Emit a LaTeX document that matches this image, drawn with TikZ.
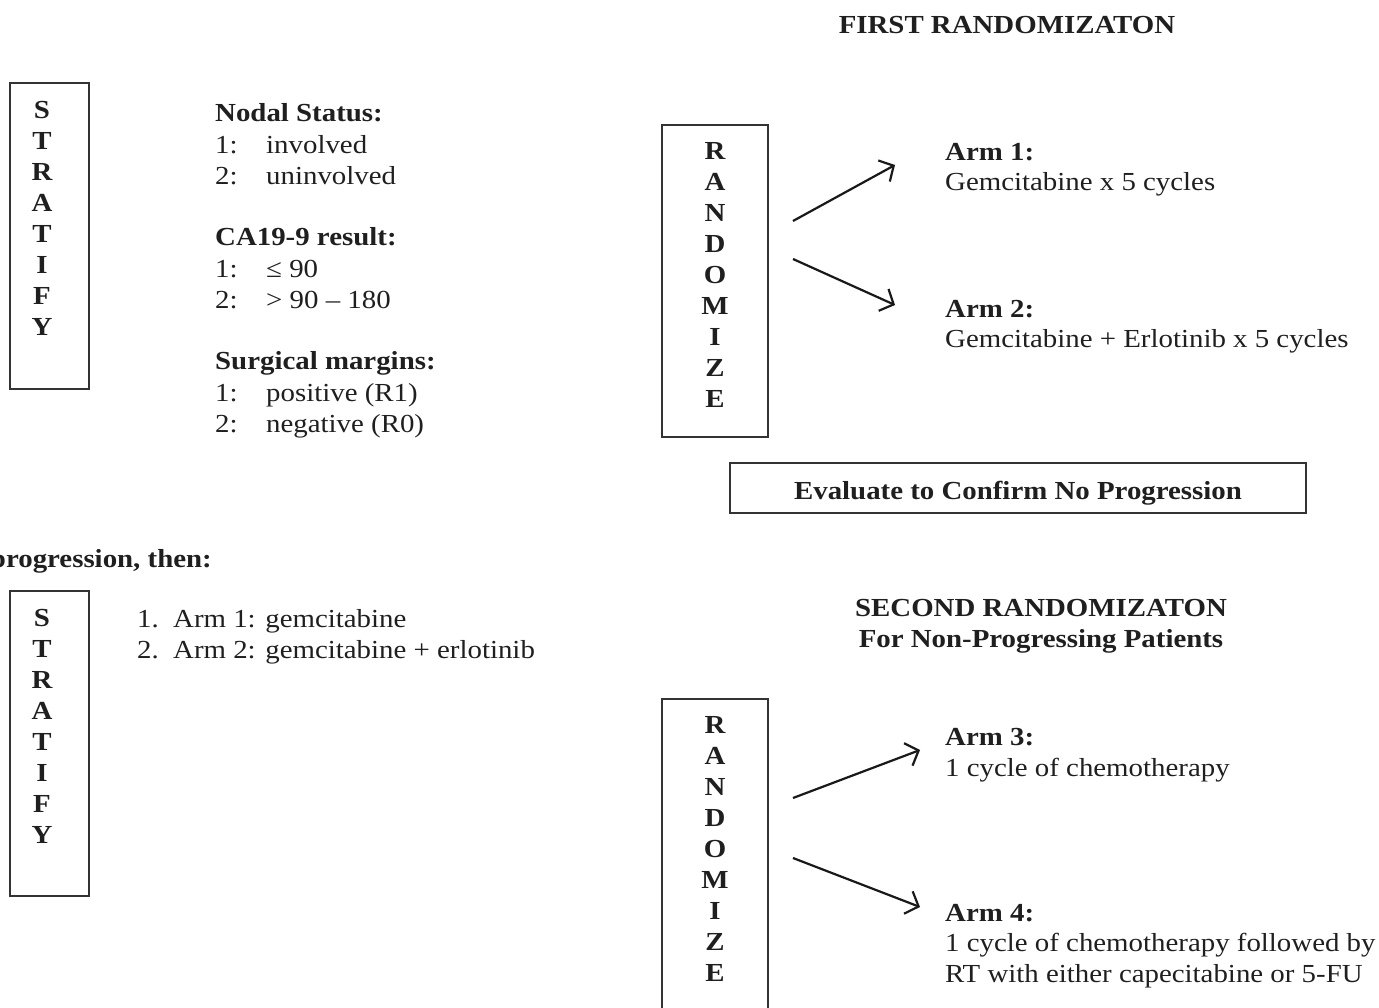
\documentclass[tikz,border=0pt]{standalone}
\usepackage{fontspec}
\setmainfont{Liberation Serif}[FakeStretch=1.11]
\usetikzlibrary{arrows.meta}
\begin{document}
\begin{tikzpicture}[x=1pt,y=-1pt,
  every node/.style={font=\fontsize{26}{31}\selectfont, inner sep=0pt, text=black!88},
  txt/.style={anchor=base west},
  hd/.style={anchor=base west, font=\fontsize{26}{31}\selectfont\bfseries},
  ctitle/.style={anchor=base, font=\fontsize{26}{31}\selectfont\bfseries},
  frame/.style={draw=black!80, line width=2pt},
  letters/.style={align=center, font=\fontsize{26}{31}\selectfont\bfseries},
  arr/.style={draw=black!90, -{Straight Barb[length=11pt,width=24pt,line width=2.2pt]}, line width=2.2pt}
]
\useasboundingbox (0,0) rectangle (1379,1008);

% ---------- first block ----------
\node[ctitle] (first) at (1007,34) {FIRST RANDOMIZATON};

\node[frame, minimum width=79pt, minimum height=306pt] (strat1) at (49.5,236) {};
\node[letters] (strat1l) at (42,218.5) {S\\T\\R\\A\\T\\I\\F\\Y};

\node[hd]  (nodal)  at (215,122) {Nodal Status:};
\node[txt] (nodal1) at (215,154) {\makebox[51pt][l]{1:}involved};
\node[txt] (nodal2) at (215,185) {\makebox[51pt][l]{2:}uninvolved};
\node[hd]  (ca)     at (215,246) {CA19-9 result:};
\node[txt] (ca1)    at (215,278) {\makebox[51pt][l]{1:}≤ 90};
\node[txt] (ca2)    at (215,309) {\makebox[51pt][l]{2:}> 90 – 180};
\node[hd]  (surg)   at (215,370) {Surgical margins:};
\node[txt] (surg1)  at (215,401) {\makebox[51pt][l]{1:}positive (R1)};
\node[txt] (surg2)  at (215,432) {\makebox[51pt][l]{2:}negative (R0)};

\node[frame, minimum width=106pt, minimum height=312pt] (rand1) at (715,281) {};
\node[letters] (rand1l) at (715,275) {R\\A\\N\\D\\O\\M\\I\\Z\\E};

\coordinate (a1s) at (793,221);
\coordinate (a1e) at (895,165);
\coordinate (a2s) at (793,259);
\coordinate (a2e) at (895,305);
\draw[arr] (a1s) -- (a1e);
\draw[arr] (a2s) -- (a2e);

\node[hd]  (arm1)  at (945,161) {Arm 1:};
\node[txt] (arm1t) at (945,191) {Gemcitabine x 5 cycles};
\node[hd]  (arm2)  at (945,318) {Arm 2:};
\node[txt] (arm2t) at (945,348) {Gemcitabine + Erlotinib x 5 cycles};

\node[frame, minimum width=576pt, minimum height=50pt] (eval) at (1018,488) {};
\node[ctitle] (evalt) at (1018,499) {Evaluate to Confirm No Progression};

% ---------- second block ----------
\node[anchor=base east, font=\fontsize{26}{31}\selectfont\bfseries] (prog) at (212,567) {progression, then:};

\node[frame, minimum width=79pt, minimum height=305pt] (strat2) at (49.5,743.5) {};
\node[letters] (strat2l) at (42,726) {S\\T\\R\\A\\T\\I\\F\\Y};

\node[txt] (l1) at (137,627) {\makebox[36pt][l]{1.}Arm 1: gemcitabine};
\node[txt] (l2) at (137,658) {\makebox[36pt][l]{2.}Arm 2: gemcitabine + erlotinib};

\node[ctitle] (second)  at (1041,616) {SECOND RANDOMIZATON};
\node[ctitle] (second2) at (1041,647) {For Non-Progressing Patients};

\draw[frame] (662,699) rectangle (768,1020);
\node[letters] (rand2l) at (715,849) {R\\A\\N\\D\\O\\M\\I\\Z\\E};

\coordinate (b1s) at (793,798);
\coordinate (b1e) at (920,750);
\coordinate (b2s) at (793,858);
\coordinate (b2e) at (920,907);
\draw[arr] (b1s) -- (b1e);
\draw[arr] (b2s) -- (b2e);

\node[hd]  (arm3)  at (945,745) {Arm 3:};
\node[txt] (arm3t) at (945,776) {1 cycle of chemotherapy};
\node[hd]  (arm4)  at (945,921) {Arm 4:};
\node[txt] (arm4a) at (945,951) {1 cycle of chemotherapy followed by};
\node[txt] (arm4b) at (945,982) {RT with either capecitabine or 5-FU};
\end{tikzpicture}
\end{document}
